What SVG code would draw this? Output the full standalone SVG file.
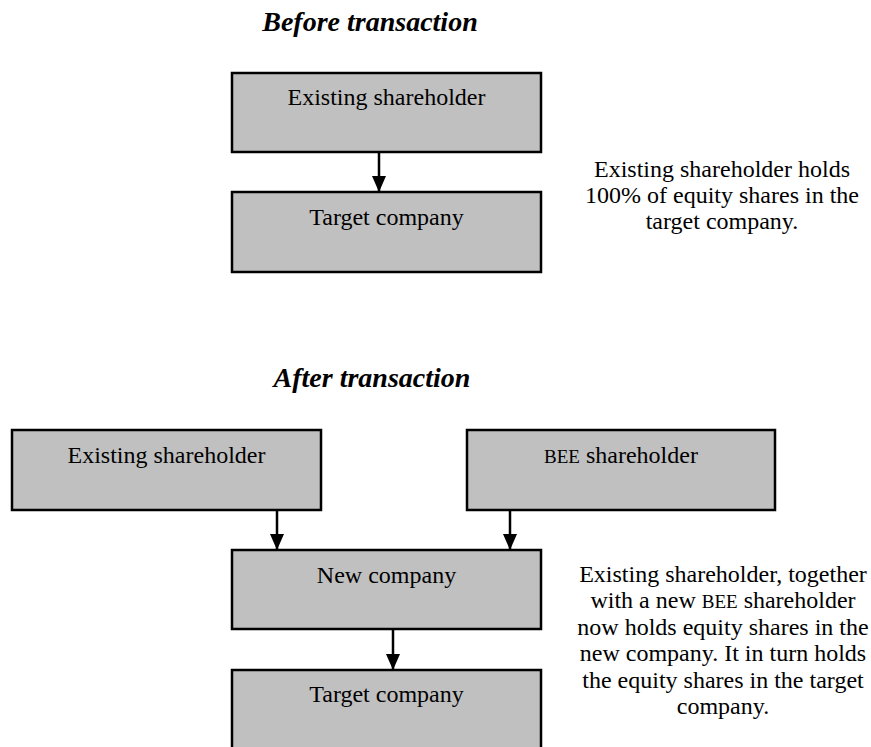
<svg xmlns="http://www.w3.org/2000/svg" width="871" height="747" viewBox="0 0 871 747">
<style>
text{font-family:"Liberation Serif","Times New Roman",serif;fill:#000;}
.t{font-size:28px;font-weight:bold;font-style:italic;text-anchor:middle;}
.n{font-size:24px;text-anchor:middle;}
.p{font-size:24px;text-anchor:middle;}
.sc{font-size:19px;}
rect.box{fill:#c0c0c0;stroke:#000;stroke-width:2.5;}
.c line{stroke:#000;stroke-width:2.5;}
</style>
<defs>
<marker id="ah" markerWidth="16" markerHeight="14" refX="16" refY="7" orient="auto" markerUnits="userSpaceOnUse" viewBox="0 0 16 14">
<path d="M0,0 L16,7 L0,14 Z" fill="#000"/>
</marker>
</defs>
<rect width="871" height="747" fill="#fff"/>
<text class="t" x="370" y="31">Before transaction</text>
<text class="t" x="372" y="387">After transaction</text>

<g id="n1"><rect class="box" x="232" y="73" width="309" height="79"/><text class="n" x="386.5" y="105">Existing shareholder</text></g>
<g id="n2"><rect class="box" x="232" y="192" width="309" height="80"/><text class="n" x="386.5" y="225">Target company</text></g>
<g id="n3"><rect class="box" x="12" y="430" width="309" height="80"/><text class="n" x="166.5" y="463">Existing shareholder</text></g>
<g id="n4"><rect class="box" x="467" y="430" width="308" height="80"/><text class="n" x="621" y="463"><tspan class="sc">BEE</tspan> shareholder</text></g>
<g id="n5"><rect class="box" x="232" y="550" width="309" height="79"/><text class="n" x="386.5" y="583">New company</text></g>
<g id="n6"><rect class="box" x="232" y="670" width="309" height="80"/><text class="n" x="386.5" y="702">Target company</text></g>

<g id="connectors" class="c">
<line x1="379" y1="152" x2="379" y2="192" marker-end="url(#ah)"/>
<line x1="277" y1="510" x2="277" y2="550" marker-end="url(#ah)"/>
<line x1="510" y1="510" x2="510" y2="550" marker-end="url(#ah)"/>
<line x1="393" y1="629" x2="393" y2="670" marker-end="url(#ah)"/>
</g>

<g id="note1">
<text class="p" x="722" y="177">Existing shareholder holds</text>
<text class="p" x="722" y="203">100% of equity shares in the</text>
<text class="p" x="722" y="229">target company.</text>
</g>
<g id="note2">
<text class="p" x="723" y="582">Existing shareholder, together</text>
<text class="p" x="723" y="608">with a new <tspan class="sc">BEE</tspan> shareholder</text>
<text class="p" x="723" y="635">now holds equity shares in the</text>
<text class="p" x="723" y="661">new company. It in turn holds</text>
<text class="p" x="723" y="688">the equity shares in the target</text>
<text class="p" x="723" y="714">company.</text>
</g>
</svg>
